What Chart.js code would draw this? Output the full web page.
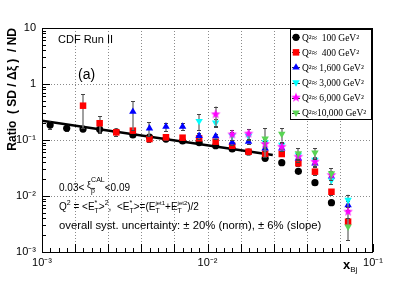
<!DOCTYPE html>
<html lang="en">
<head>
<meta charset="UTF-8">
<title>CDF Run II | SD/ND ratio vs x_Bj</title>
<script src="https://cdn.jsdelivr.net/npm/chart.js"></script>
<style>
    html, body { margin: 0; padding: 0; background: #fff; }
    #wrap { width: 415px; height: 281px; position: relative; }
</style>
</head>
<body>
<div id="wrap"><canvas id="grafico"></canvas></div>
<script>
// bin centres in x_Bj
const xBj = [0.00112, 0.00141, 0.00177, 0.00223, 0.00281, 0.00354, 0.00446, 0.00561, 0.00707, 0.0089,
             0.0112, 0.0141, 0.0177, 0.0223, 0.0281, 0.0354, 0.0446, 0.0561, 0.0707];

// ratio (SD/dxi)/ND for each Q^2 bin, null = no point
const r100   = [0.185, 0.162, 0.157, 0.155, 0.140, 0.123, 0.113, 0.104, 0.096, 0.090, 0.079, 0.069, 0.061, 0.047, 0.0394, 0.0276, 0.0173, 0.0076, null];
const r400   = [null, null, 0.41, 0.199, 0.137, 0.147, 0.104, 0.112, 0.110, 0.107, 0.0933, 0.0791, 0.0618, 0.057, 0.0562, 0.0384, 0.0272, 0.0119, 0.00348];
const r1600  = [null, null, null, null, null, 0.32, 0.162, 0.173, 0.173, 0.119, 0.117, 0.091, 0.094, 0.0711, 0.0711, 0.0471, 0.0384, 0.0221, 0.0069];
const r3000  = [null, null, null, null, null, null, null, null, null, 0.218, 0.204, 0.119, 0.118, 0.091, 0.0815, 0.054, 0.044, 0.0193, 0.00848];
const r6000  = [null, null, null, null, null, null, null, null, null, null, 0.288, 0.126, 0.130, 0.0849, 0.0759, 0.0503, 0.041, 0.0237, 0.00525];
const r10000 = [null, null, null, null, null, null, null, null, null, null, null, null, null, 0.106, 0.128, 0.0579, 0.0593, 0.0254, 0.00283];

// statistical errors (symmetric)
const e100   = [0.028, 0.02, 0.015, 0.015, 0.012, 0.01, 0.008, 0.008, 0.007, 0.006, 0.005, 0.004, 0.004, 0.003, 0.003, 0.002, 0.0015, 0.0007, null];
const e400   = [null, null, 0.245, 0.064, 0.02, 0.012, 0.01, 0.01, 0.009, 0.008, 0.007, 0.006, 0.005, 0.005, 0.005, 0.004, 0.003, 0.0015, 0.0006];
const e1600  = [null, null, null, null, null, 0.17, 0.045, 0.03, 0.025, 0.015, 0.013, 0.01, 0.01, 0.008, 0.008, 0.006, 0.005, 0.003, 0.0012];
const e3000  = [null, null, null, null, null, null, null, null, null, 0.07, 0.03, 0.02, 0.018, 0.012, 0.011, 0.007, 0.006, 0.003, 0.002];
const e6000  = [null, null, null, null, null, null, null, null, null, null, 0.107, 0.024, 0.025, 0.012, 0.011, 0.007, 0.006, 0.004, 0.0012];
const e10000 = [null, null, null, null, null, null, null, null, null, null, null, null, null, 0.056, 0.034, 0.013, 0.013, 0.006, 0.0012];

// power-law fit to the Q^2 = 100 points
const fitX = [0.001, 0.0248];
const fitY = [0.221, 0.054];

const seriesLabels = ['Q\u00B2\u2248  100 GeV\u00B2', 'Q\u00B2\u2248  400 GeV\u00B2', 'Q\u00B2\u2248 1,600 GeV\u00B2',
                      'Q\u00B2\u2248 3,000 GeV\u00B2', 'Q\u00B2\u2248 6,000 GeV\u00B2', 'Q\u00B2\u224810,000 GeV\u00B2'];

const xTickValues = [0.001, 0.01, 0.1];
const xTickLabels = ['10\u207B\u00B3', '10\u207B\u00B2', '10\u207B\u00B9'];
const yTickValues = [0.001, 0.01, 0.1, 1, 10];
const yTickLabels = ['10\u207B\u00B3', '10\u207B\u00B2', '10\u207B\u00B9', '1', '10'];

const SANS = '"Liberation Sans", Arial, Helvetica, sans-serif';
const SERIF = '"Liberation Serif", "Times New Roman", serif';

// filled star marker (ROOT style 29)
function starImg(color, r) {
    const c = document.createElement('canvas');
    const s = Math.ceil(r * 2) + 2;
    c.width = s; c.height = s;
    const g = c.getContext('2d');
    g.fillStyle = color;
    g.beginPath();
    for (let i = 0; i < 10; i++) {
        const a = -Math.PI / 2 + i * Math.PI / 5;
        const rr = i % 2 ? r * 0.42 : r;
        g.lineTo(s / 2 + rr * Math.cos(a), s / 2 + rr * Math.sin(a));
    }
    g.closePath();
    g.fill();
    return c;
}

const starMagenta = starImg('#ff00ff', 5);

const estilos = [
    { vals: r100,   errs: e100,   color: '#000000', style: 'circle',   radius: 3.6, rot: 0 },
    { vals: r400,   errs: e400,   color: '#ff0000', style: 'rect',     radius: 4.6, rot: 0 },
    { vals: r1600,  errs: e1600,  color: '#0000ff', style: 'triangle', radius: 4.3, rot: 0 },
    { vals: r3000,  errs: e3000,  color: '#00ffff', style: 'triangle', radius: 4.3, rot: 180 },
    { vals: r6000,  errs: e6000,  color: '#ff00ff', style: starMagenta, radius: 5, rot: 0 },
    { vals: r10000, errs: e10000, color: '#59d454', style: 'triangle', radius: 4.3, rot: 180 }
];

function montarPontos(vals, errs) {
    const pts = [];
    for (let i = 0; i < xBj.length; i++) {
        if (vals[i] === null) continue;
        pts.push({ x: xBj[i], y: vals[i], e: errs[i] });
    }
    return pts;
}

const datasets = estilos.map(function (s, i) {
    return {
        label: seriesLabels[i],
        data: montarPontos(s.vals, s.errs),
        pointStyle: s.style,
        pointRadius: s.radius,
        pointRotation: s.rot,
        backgroundColor: s.color,
        borderColor: s.color,
        borderWidth: 0,
        showLine: false,
        order: 6 - i,
        temErro: true
    };
});

datasets.push({
    type: 'line',
    label: 'fit',
    data: fitX.map(function (x, i) { return { x: x, y: fitY[i] }; }),
    borderColor: '#000',
    borderWidth: 2.5,
    pointRadius: 0,
    fill: false,
    order: 10
});

// error bars, drawn right before the markers of each dataset
const barrasErro = {
    id: 'barrasErro',
    beforeDatasetDraw(chart, args) {
        const ds = chart.data.datasets[args.index];
        if (!ds.temErro) return;
        const ctx = chart.ctx;
        const xs = chart.scales.x, ys = chart.scales.y;
        const area = chart.chartArea;
        ctx.save();
        ds.data.forEach(function (p) {
            if (!p.e) return;
            const px = Math.round(xs.getPixelForValue(p.x));
            const top = ys.getPixelForValue(p.y + p.e);
            const lo = p.y - p.e;
            const bot = lo > 0 ? Math.min(ys.getPixelForValue(lo), area.bottom) : area.bottom;
            ctx.strokeStyle = '#808080';
            ctx.lineWidth = 1.5;
            ctx.beginPath();
            ctx.moveTo(px, top);
            ctx.lineTo(px, bot);
            ctx.stroke();
            ctx.strokeStyle = '#444';
            ctx.lineWidth = 1;
            ctx.beginPath();
            ctx.moveTo(px - 2, Math.round(top) + 0.5);
            ctx.lineTo(px + 2, Math.round(top) + 0.5);
            if (bot < area.bottom) {
                ctx.moveTo(px - 2, Math.round(bot) + 0.5);
                ctx.lineTo(px + 2, Math.round(bot) + 0.5);
            }
            ctx.stroke();
        });
        ctx.restore();
    }
};

// frame, dotted grid and inside tick marks (ROOT look)
const moldura = {
    id: 'moldura',
    beforeDatasetsDraw(chart) {
        const ctx = chart.ctx;
        const a = chart.chartArea;
        const xs = chart.scales.x, ys = chart.scales.y;
        ctx.save();

        ctx.strokeStyle = '#8a8a8a';
        ctx.lineWidth = 1;
        ctx.setLineDash([1, 2]);
        for (let k = 1; k < 10; k++) {
            const px = Math.round(xs.getPixelForValue(Math.pow(10, -3 + 0.2 * k))) + 0.5;
            ctx.beginPath(); ctx.moveTo(px, a.top); ctx.lineTo(px, a.bottom); ctx.stroke();
        }
        [1, 0.1, 0.01].forEach(function (v) {
            const py = Math.round(ys.getPixelForValue(v)) + 0.5;
            ctx.beginPath(); ctx.moveTo(a.left, py); ctx.lineTo(a.right, py); ctx.stroke();
        });
        ctx.setLineDash([]);

        ctx.strokeStyle = '#000';
        ctx.beginPath();
        // y ticks on the left
        for (let n = -3; n <= 0; n++) {
            for (let m = 1; m <= 9; m++) {
                const v = m * Math.pow(10, n);
                const py = Math.round(ys.getPixelForValue(v)) + 0.5;
                const len = m === 1 ? 8 : 4;
                ctx.moveTo(a.left, py); ctx.lineTo(a.left + len, py);
            }
        }
        // x ticks on the bottom
        for (let k = 0; k <= 40; k++) {
            const px = Math.round(xs.getPixelForValue(Math.pow(10, -3 + 0.05 * k))) + 0.5;
            const len = k % 4 === 0 ? 8 : 4;
            ctx.moveTo(px, a.bottom); ctx.lineTo(px, a.bottom - len);
        }
        ctx.stroke();

        ctx.lineWidth = 1;
        ctx.strokeRect(a.left + 0.5, a.top + 0.5, a.right - a.left - 1, a.bottom - a.top);
        ctx.restore();
    }
};

function textoRico(ctx, x, y, partes) {
    let cx = x, pend = 0;
    partes.forEach(function (p) {
        ctx.font = (p.b ? 'bold ' : '') + p.s + 'px ' + SANS;
        const w = ctx.measureText(p.t).width;
        ctx.fillText(p.t, cx, y + (p.dy || 0));
        if (p.barra) {
            ctx.fillRect(cx, y + (p.dy || 0) - p.s * 0.72, w, 0.8);
        }
        if (p.stack) { pend = Math.max(pend, w); }
        else { cx += Math.max(w, pend); pend = 0; }
    });
}

function desenhaMarcador(ctx, s, x, y) {
    ctx.fillStyle = s.color;
    const r = s.radius;
    if (s.style === 'circle') {
        ctx.beginPath(); ctx.arc(x, y, r, 0, Math.PI * 2); ctx.fill();
    } else if (s.style === 'rect') {
        const h = r * Math.SQRT1_2;
        ctx.fillRect(x - h, y - h, 2 * h, 2 * h);
    } else if (s.style === 'triangle') {
        const d = s.rot === 180 ? -1 : 1;
        ctx.beginPath();
        ctx.moveTo(x, y - d * r);
        ctx.lineTo(x + 0.866 * r, y + d * r / 2);
        ctx.lineTo(x - 0.866 * r, y + d * r / 2);
        ctx.closePath(); ctx.fill();
    } else {
        ctx.drawImage(s.style, x - s.style.width / 2, y - s.style.height / 2);
    }
}

const anotacoes = {
    id: 'anotacoes',
    afterDraw(chart) {
        const ctx = chart.ctx;
        ctx.save();
        ctx.fillStyle = '#000';
        ctx.textAlign = 'left';
        ctx.textBaseline = 'alphabetic';

        ctx.font = '11px ' + SANS;
        ctx.fillText('CDF Run II', 58, 43);
        ctx.font = '14px ' + SANS;
        ctx.fillText('(a)', 78, 79);

        textoRico(ctx, 59, 191, [
            { t: '0.03< ', s: 10 },
            { t: '\u03BE', s: 9, dy: -3 },
            { t: 'CAL', s: 7, dy: -9, stack: true },
            { t: 'p', s: 7, dy: 2, barra: true },
            { t: '<0.09', s: 10 }
        ]);

        textoRico(ctx, 59, 209.5, [
            { t: 'Q', s: 10 }, { t: '2', s: 7, dy: -5 },
            { t: ' = <E', s: 10 }, { t: '*', s: 7, dy: -5, stack: true }, { t: 'T', s: 7, dy: 3 },
            { t: '>', s: 10 }, { t: '2', s: 7, dy: -5 },
            { t: ',  <E', s: 10 }, { t: '*', s: 7, dy: -5, stack: true }, { t: 'T', s: 7, dy: 3 },
            { t: '>=(E', s: 10 }, { t: 'jet1', s: 6, dy: -5, stack: true }, { t: 'T', s: 7, dy: 3 },
            { t: '+E', s: 10 }, { t: 'jet2', s: 6, dy: -5, stack: true }, { t: 'T', s: 7, dy: 3 },
            { t: ')/2', s: 10 }
        ]);

        ctx.font = '11.3px ' + SANS;
        ctx.fillText('overall syst. uncertainty: \u00B1 20% (norm), \u00B1 6% (slope)', 59, 228.7);

        // axis titles
        ctx.save();
        ctx.translate(16, 28);
        ctx.rotate(-Math.PI / 2);
        ctx.textAlign = 'right';
        ctx.font = 'bold 12px ' + SANS;
        ctx.fillText('Ratio  ( SD / \u0394\u03BE )  / ND', 0, 0);
        ctx.restore();

        textoRico(ctx, 343, 268.5, [
            { t: 'x', s: 13, b: true },
            { t: 'Bj', s: 8, dy: 3 }
        ]);

        // legend box
        const lx = 290, ly = 29, lw = 81, lh = 90;
        ctx.fillStyle = '#fff';
        ctx.fillRect(lx, ly, lw, lh);
        ctx.strokeStyle = '#000';
        ctx.lineWidth = 1;
        ctx.strokeRect(lx + 0.5, ly + 0.5, lw, lh);
        estilos.forEach(function (s, i) {
            const cy = ly + 8.3 + i * 15.07;
            ctx.strokeStyle = '#333';
            ctx.beginPath();
            ctx.moveTo(292, Math.round(cy) + 0.5);
            ctx.lineTo(300, Math.round(cy) + 0.5);
            ctx.stroke();
            desenhaMarcador(ctx, s, 296, cy);
            ctx.fillStyle = '#000';
            ctx.font = '9.5px ' + SERIF;
            ctx.fillText(seriesLabels[i], 302, cy + 3.5);
        });
        ctx.restore();
    }
};

new Chart(document.getElementById('grafico'), {
    type: 'scatter',
    data: { datasets: datasets },
    options: {
        responsive: true,
        maintainAspectRatio: false,
        animation: false,
        layout: { padding: { top: 28, right: 42, left: 0, bottom: 0 } },
        plugins: {
            legend: { display: false },
            tooltip: { enabled: false }
        },
        scales: {
            x: {
                type: 'logarithmic',
                position: 'bottom',
                min: 0.001,
                max: 0.1,
                grid: { display: false, drawTicks: false },
                border: { display: false },
                afterBuildTicks: function (scale) {
                    scale.ticks = xTickValues.map(function (v) { return { value: v }; });
                },
                afterFit: function (scale) { scale.height = 29; },
                ticks: {
                    autoSkip: false,
                    maxRotation: 0,
                    padding: 4,
                    color: '#000',
                    font: { family: SANS, size: 11 },
                    callback: function (value, index) { return xTickLabels[index]; }
                }
            },
            y: {
                type: 'logarithmic',
                min: 0.001,
                max: 10,
                grid: { display: false, drawTicks: false },
                border: { display: false },
                afterBuildTicks: function (scale) {
                    scale.ticks = yTickValues.map(function (v) { return { value: v }; });
                },
                afterFit: function (scale) { scale.width = 42; },
                ticks: {
                    autoSkip: false,
                    padding: 6,
                    color: '#000',
                    font: { family: SANS, size: 11 },
                    callback: function (value, index) { return yTickLabels[index]; }
                }
            }
        }
    },
    plugins: [moldura, barrasErro, anotacoes]
});
</script>
</body>
</html>
